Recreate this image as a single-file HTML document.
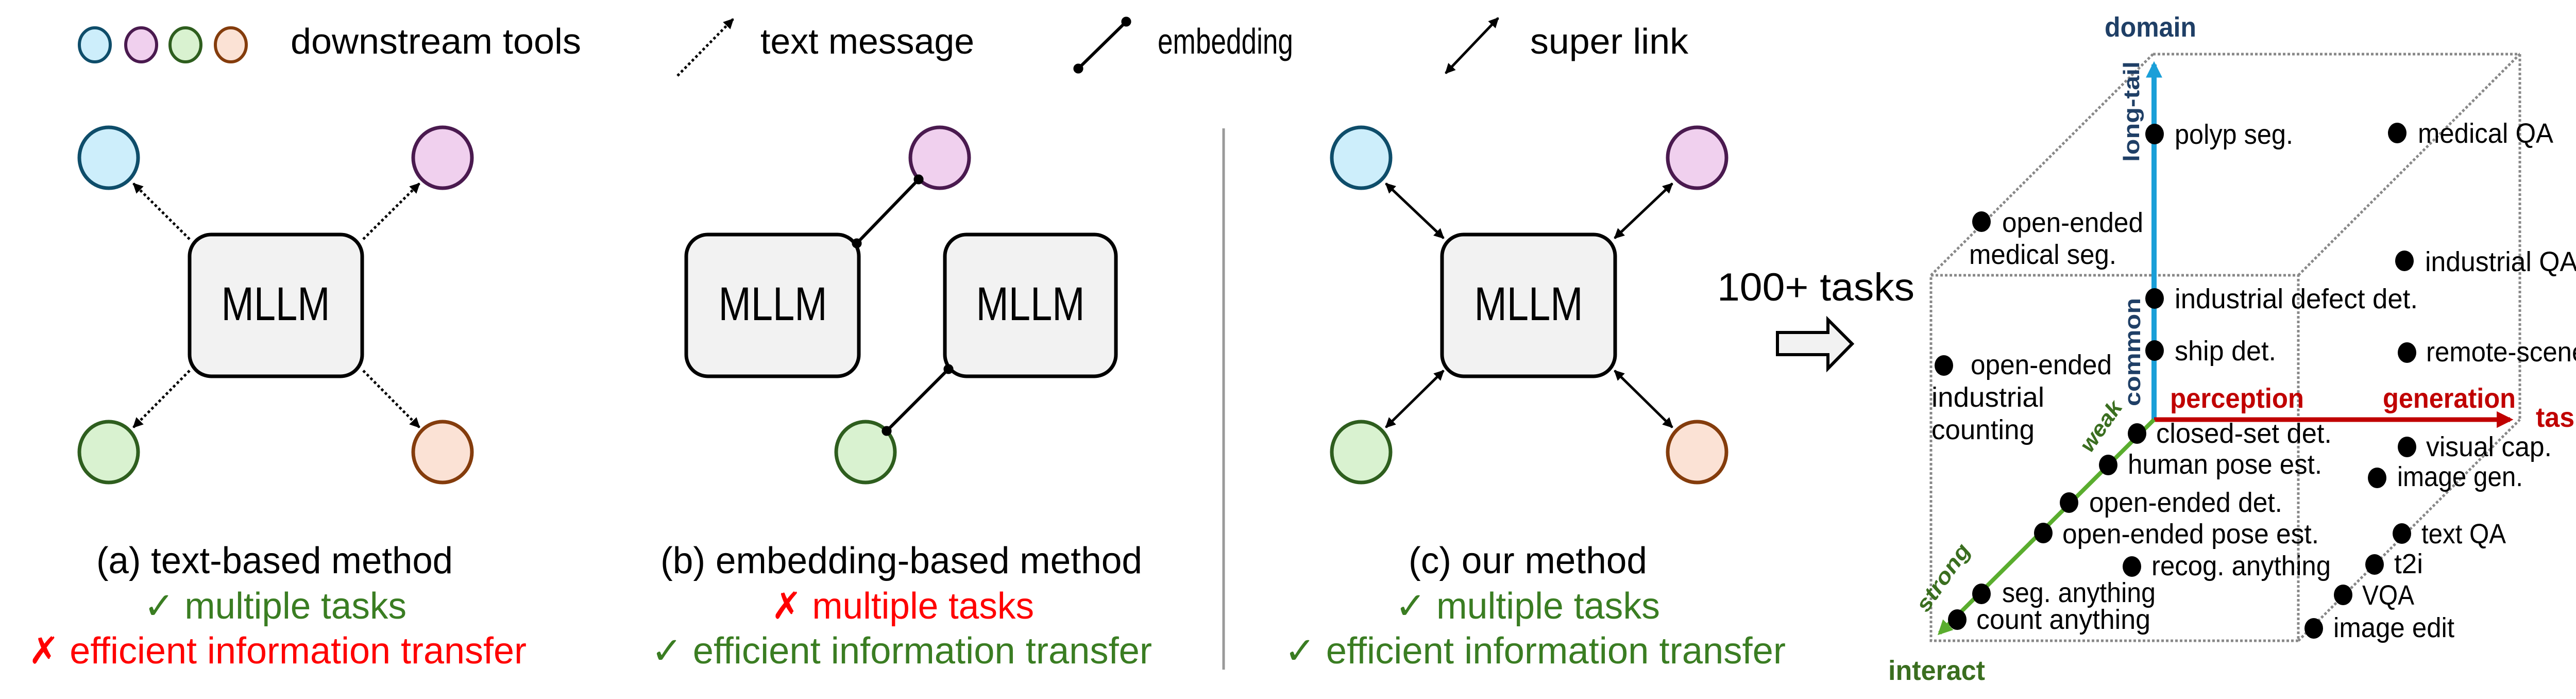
<!DOCTYPE html>
<html><head><meta charset="utf-8"><style>
html,body{margin:0;padding:0;background:#fff;}
svg{display:block;}
text{font-family:"Liberation Sans Narrow","Liberation Sans",sans-serif;}
</style></head><body>
<svg width="5165" height="1356" viewBox="0 0 5165 1356" xmlns="http://www.w3.org/2000/svg">
<defs>
<marker id="ah" viewBox="0 0 10 10" refX="9" refY="5" markerWidth="4" markerHeight="4" orient="auto-start-reverse"><path d="M0,0 L10,5 L0,10 z" fill="#000"/></marker>
<marker id="dt" viewBox="0 0 10 10" refX="5" refY="5" markerWidth="3.2" markerHeight="3.2"><circle cx="5" cy="5" r="5" fill="#000"/></marker>
<marker id="ab" viewBox="0 0 10 10" refX="8" refY="5" markerWidth="3.2" markerHeight="3.2" orient="auto"><path d="M0,0 L10,5 L0,10 z" fill="#1a9fd8"/></marker>
<marker id="ar" viewBox="0 0 10 10" refX="8" refY="5" markerWidth="3.6" markerHeight="3.6" orient="auto"><path d="M0,0 L10,5 L0,10 z" fill="#c00000"/></marker>
<marker id="ag" viewBox="0 0 10 10" refX="8" refY="5" markerWidth="3.6" markerHeight="3.6" orient="auto"><path d="M0,0 L10,5 L0,10 z" fill="#5aad2e"/></marker>
</defs>

<!-- legend -->
<g stroke-width="6">
<ellipse cx="184" cy="87" rx="30" ry="33" fill="#cdeefb" stroke="#0e4d6a"/>
<ellipse cx="274" cy="87" rx="30" ry="33" fill="#f0d0ee" stroke="#4a1a4f"/>
<ellipse cx="360" cy="87" rx="30" ry="33" fill="#d9f2d0" stroke="#2e5e1e"/>
<ellipse cx="448" cy="87" rx="30" ry="33" fill="#fbe2d5" stroke="#843c0c"/>
</g>
<text x="564" y="104" font-size="70" textLength="564" lengthAdjust="spacingAndGlyphs">downstream tools</text>
<line x1="1315" y1="147" x2="1423" y2="37" stroke="#000" stroke-width="5" stroke-dasharray="5 5" marker-end="url(#ah)"/>
<text x="1476" y="104" font-size="70" textLength="415" lengthAdjust="spacingAndGlyphs">text message</text>
<line x1="2093" y1="133" x2="2186" y2="42" stroke="#000" stroke-width="6" marker-start="url(#dt)" marker-end="url(#dt)"/>
<text x="2247" y="104" font-size="70" textLength="263" lengthAdjust="spacingAndGlyphs">embedding</text>
<line x1="2806" y1="142" x2="2908" y2="35" stroke="#000" stroke-width="5" marker-start="url(#ah)" marker-end="url(#ah)"/>
<text x="2970" y="104" font-size="70" textLength="307" lengthAdjust="spacingAndGlyphs">super link</text>

<!-- panel a -->
<g stroke-width="7">
<ellipse cx="211" cy="306" rx="57" ry="59" fill="#cdeefb" stroke="#0e4d6a"/>
<ellipse cx="859" cy="306" rx="57" ry="59" fill="#f0d0ee" stroke="#4a1a4f"/>
<ellipse cx="211" cy="877" rx="57" ry="59" fill="#d9f2d0" stroke="#2e5e1e"/>
<ellipse cx="859" cy="877" rx="57" ry="59" fill="#fbe2d5" stroke="#843c0c"/>
</g>
<g stroke="#000" stroke-width="5" stroke-dasharray="5 5" fill="none">
<line x1="368" y1="464" x2="259" y2="356" marker-end="url(#ah)"/>
<line x1="705" y1="464" x2="814" y2="356" marker-end="url(#ah)"/>
<line x1="368" y1="719" x2="259" y2="829" marker-end="url(#ah)"/>
<line x1="705" y1="719" x2="814" y2="829" marker-end="url(#ah)"/>
</g>
<rect x="368" y="455" width="335" height="275" rx="42" fill="#f2f2f2" stroke="#000" stroke-width="7"/>
<text x="535" y="621" font-size="92" text-anchor="middle" textLength="211" lengthAdjust="spacingAndGlyphs">MLLM</text>

<!-- panel b -->
<g stroke-width="7">
<ellipse cx="1824" cy="306" rx="57" ry="59" fill="#f0d0ee" stroke="#4a1a4f"/>
<ellipse cx="1680" cy="877" rx="57" ry="59" fill="#d9f2d0" stroke="#2e5e1e"/>
</g>
<rect x="1332" y="455" width="335" height="275" rx="42" fill="#f2f2f2" stroke="#000" stroke-width="7"/>
<rect x="1834" y="455" width="332" height="275" rx="42" fill="#f2f2f2" stroke="#000" stroke-width="7"/>
<line x1="1663" y1="472" x2="1783" y2="348" stroke="#000" stroke-width="6" marker-start="url(#dt)" marker-end="url(#dt)"/>
<line x1="1841" y1="716" x2="1721" y2="836" stroke="#000" stroke-width="6" marker-start="url(#dt)" marker-end="url(#dt)"/>
<text x="1500" y="621" font-size="92" text-anchor="middle" textLength="211" lengthAdjust="spacingAndGlyphs">MLLM</text>
<text x="2000" y="621" font-size="92" text-anchor="middle" textLength="211" lengthAdjust="spacingAndGlyphs">MLLM</text>

<line x1="2375" y1="249" x2="2375" y2="1299" stroke="#999" stroke-width="5"/>

<!-- panel c -->
<g stroke-width="7">
<ellipse cx="2642" cy="306" rx="57" ry="59" fill="#cdeefb" stroke="#0e4d6a"/>
<ellipse cx="3294" cy="306" rx="57" ry="59" fill="#f0d0ee" stroke="#4a1a4f"/>
<ellipse cx="2642" cy="877" rx="57" ry="59" fill="#d9f2d0" stroke="#2e5e1e"/>
<ellipse cx="3294" cy="877" rx="57" ry="59" fill="#fbe2d5" stroke="#843c0c"/>
</g>
<g stroke="#000" stroke-width="5" fill="none">
<line x1="2690" y1="356" x2="2802" y2="462" marker-start="url(#ah)" marker-end="url(#ah)"/>
<line x1="3246" y1="356" x2="3134" y2="462" marker-start="url(#ah)" marker-end="url(#ah)"/>
<line x1="2690" y1="829" x2="2802" y2="719" marker-start="url(#ah)" marker-end="url(#ah)"/>
<line x1="3246" y1="829" x2="3134" y2="719" marker-start="url(#ah)" marker-end="url(#ah)"/>
</g>
<rect x="2799" y="455" width="336" height="275" rx="42" fill="#f2f2f2" stroke="#000" stroke-width="7"/>
<text x="2967" y="621" font-size="92" text-anchor="middle" textLength="211" lengthAdjust="spacingAndGlyphs">MLLM</text>

<!-- captions -->
<g font-size="72">
<text x="187" y="1112" textLength="692" lengthAdjust="spacingAndGlyphs">(a) text-based method</text>
<text x="279" y="1200" fill="#3a7d22" textLength="510" lengthAdjust="spacingAndGlyphs">✓ multiple tasks</text>
<text x="55" y="1287" fill="#ff0000" textLength="967" lengthAdjust="spacingAndGlyphs">✗ efficient information transfer</text>
<text x="1282" y="1112" textLength="935" lengthAdjust="spacingAndGlyphs">(b) embedding-based method</text>
<text x="1497" y="1200" fill="#ff0000" textLength="510" lengthAdjust="spacingAndGlyphs">✗ multiple tasks</text>
<text x="1264" y="1287" fill="#3a7d22" textLength="972" lengthAdjust="spacingAndGlyphs">✓ efficient information transfer</text>
<text x="2734" y="1112" textLength="463" lengthAdjust="spacingAndGlyphs">(c) our method</text>
<text x="2708" y="1200" fill="#3a7d22" textLength="514" lengthAdjust="spacingAndGlyphs">✓ multiple tasks</text>
<text x="2493" y="1287" fill="#3a7d22" textLength="973" lengthAdjust="spacingAndGlyphs">✓ efficient information transfer</text>
</g>

<!-- 100+ tasks -->
<text x="3333" y="583" font-size="76" font-family="Liberation Sans, sans-serif" textLength="383" lengthAdjust="spacingAndGlyphs">100+ tasks</text>
<path d="M3450,645 L3548,645 L3548,620 L3595,667 L3548,715 L3548,688 L3450,688 Z" fill="#f2f2f2" stroke="#000" stroke-width="6"/>

<!-- cube -->
<g stroke="#888" stroke-width="5" stroke-dasharray="5 4" fill="none">
<line x1="4179" y1="105" x2="4891" y2="105"/>
<line x1="4891" y1="105" x2="4891" y2="814"/>
<rect x="3748" y="534" width="713" height="709"/>
<line x1="3748" y1="534" x2="4179" y2="105"/>
<line x1="4461" y1="534" x2="4891" y2="105"/>
<line x1="4461" y1="1243" x2="4891" y2="814"/>
</g>
<line x1="4181" y1="814" x2="4181" y2="125" stroke="#1a9fd8" stroke-width="10" marker-end="url(#ab)"/>
<line x1="4181" y1="814" x2="4872" y2="814" stroke="#c00000" stroke-width="9" marker-end="url(#ar)"/>
<line x1="4181" y1="814" x2="3765" y2="1228" stroke="#5aad2e" stroke-width="8" marker-end="url(#ag)"/>

<text x="4085" y="71" font-size="54" font-weight="bold" fill="#1f3f66" textLength="178" lengthAdjust="spacingAndGlyphs">domain</text>
<text transform="translate(4152,314) rotate(-90)" font-family="DejaVu Sans, sans-serif" font-size="44" font-weight="bold" fill="#1f3f66" textLength="195" lengthAdjust="spacingAndGlyphs">long-tail</text>
<text transform="translate(4154,788) rotate(-90)" font-family="DejaVu Sans, sans-serif" font-size="44" font-weight="bold" fill="#1f3f66" textLength="210" lengthAdjust="spacingAndGlyphs">common</text>
<text x="4212" y="791" font-size="54" font-weight="bold" fill="#c00000" textLength="260" lengthAdjust="spacingAndGlyphs">perception</text>
<text x="4625" y="791" font-size="54" font-weight="bold" fill="#c00000" textLength="258" lengthAdjust="spacingAndGlyphs">generation</text>
<text x="4922" y="828" font-size="54" font-weight="bold" fill="#c00000" textLength="104" lengthAdjust="spacingAndGlyphs">task</text>
<text transform="translate(4058,880) rotate(-55)" font-family="DejaVu Sans, sans-serif" font-size="42" font-weight="bold" font-style="italic" fill="#3a6e1f" textLength="110" lengthAdjust="spacingAndGlyphs">weak</text>
<text transform="translate(3740,1190) rotate(-55)" font-family="DejaVu Sans, sans-serif" font-size="42" font-weight="bold" font-style="italic" fill="#3a6e1f" textLength="150" lengthAdjust="spacingAndGlyphs">strong</text>
<text x="3665" y="1319" font-size="54" font-weight="bold" fill="#3a6e1f" textLength="188" lengthAdjust="spacingAndGlyphs">interact</text>

<g fill="#000">
<ellipse cx="4182" cy="260" rx="18" ry="20"/><ellipse cx="4653" cy="258" rx="18" ry="20"/>
<ellipse cx="3846" cy="430" rx="18" ry="20"/><ellipse cx="4667" cy="506" rx="18" ry="20"/>
<ellipse cx="4182" cy="579" rx="18" ry="20"/><ellipse cx="4182" cy="680" rx="18" ry="20"/>
<ellipse cx="4672" cy="684" rx="18" ry="20"/><ellipse cx="3773" cy="709" rx="18" ry="20"/>
<ellipse cx="4148" cy="841" rx="18" ry="20"/><ellipse cx="4092" cy="902" rx="18" ry="20"/>
<ellipse cx="4016" cy="975" rx="18" ry="20"/><ellipse cx="3966" cy="1034" rx="18" ry="20"/>
<ellipse cx="4138" cy="1099" rx="18" ry="20"/><ellipse cx="3846" cy="1152" rx="18" ry="20"/>
<ellipse cx="3799" cy="1202" rx="18" ry="20"/><ellipse cx="4672" cy="867" rx="18" ry="20"/>
<ellipse cx="4614" cy="927" rx="18" ry="20"/><ellipse cx="4662" cy="1035" rx="18" ry="20"/>
<ellipse cx="4609" cy="1095" rx="18" ry="20"/><ellipse cx="4548" cy="1154" rx="18" ry="20"/>
<ellipse cx="4491" cy="1219" rx="18" ry="20"/>
</g>
<g font-size="54">
<text x="4221" y="279" textLength="230" lengthAdjust="spacingAndGlyphs">polyp seg.</text>
<text x="4693" y="277" textLength="263" lengthAdjust="spacingAndGlyphs">medical QA</text>
<text x="3886" y="450" textLength="274" lengthAdjust="spacingAndGlyphs">open-ended</text>
<text x="3822" y="512" textLength="286" lengthAdjust="spacingAndGlyphs">medical seg.</text>
<text x="4707" y="526" textLength="296" lengthAdjust="spacingAndGlyphs">industrial QA</text>
<text x="4221" y="598" textLength="472" lengthAdjust="spacingAndGlyphs">industrial defect det.</text>
<text x="4221" y="699" textLength="197" lengthAdjust="spacingAndGlyphs">ship det.</text>
<text x="4709" y="701" textLength="399" lengthAdjust="spacingAndGlyphs">remote-scene QA</text>
<text x="3825" y="726" textLength="274" lengthAdjust="spacingAndGlyphs">open-ended</text>
<text x="3749" y="789" textLength="219" lengthAdjust="spacingAndGlyphs">industrial</text>
<text x="3749" y="852" textLength="200" lengthAdjust="spacingAndGlyphs">counting</text>
<text x="4185" y="859" textLength="341" lengthAdjust="spacingAndGlyphs">closed-set det.</text>
<text x="4130" y="919" textLength="377" lengthAdjust="spacingAndGlyphs">human pose est.</text>
<text x="4055" y="993" textLength="375" lengthAdjust="spacingAndGlyphs">open-ended det.</text>
<text x="4003" y="1054" textLength="498" lengthAdjust="spacingAndGlyphs">open-ended pose est.</text>
<text x="4176" y="1116" textLength="348" lengthAdjust="spacingAndGlyphs">recog. anything</text>
<text x="3886" y="1168" textLength="298" lengthAdjust="spacingAndGlyphs">seg. anything</text>
<text x="3836" y="1220" textLength="338" lengthAdjust="spacingAndGlyphs">count anything</text>
<text x="4709" y="885" textLength="244" lengthAdjust="spacingAndGlyphs">visual cap.</text>
<text x="4653" y="943" textLength="244" lengthAdjust="spacingAndGlyphs">image gen.</text>
<text x="4700" y="1054" textLength="164" lengthAdjust="spacingAndGlyphs">text QA</text>
<text x="4647" y="1112" textLength="56" lengthAdjust="spacingAndGlyphs">t2i</text>
<text x="4585" y="1173" textLength="101" lengthAdjust="spacingAndGlyphs">VQA</text>
<text x="4529" y="1236" textLength="235" lengthAdjust="spacingAndGlyphs">image edit</text>
</g>
</svg>
</body></html>
